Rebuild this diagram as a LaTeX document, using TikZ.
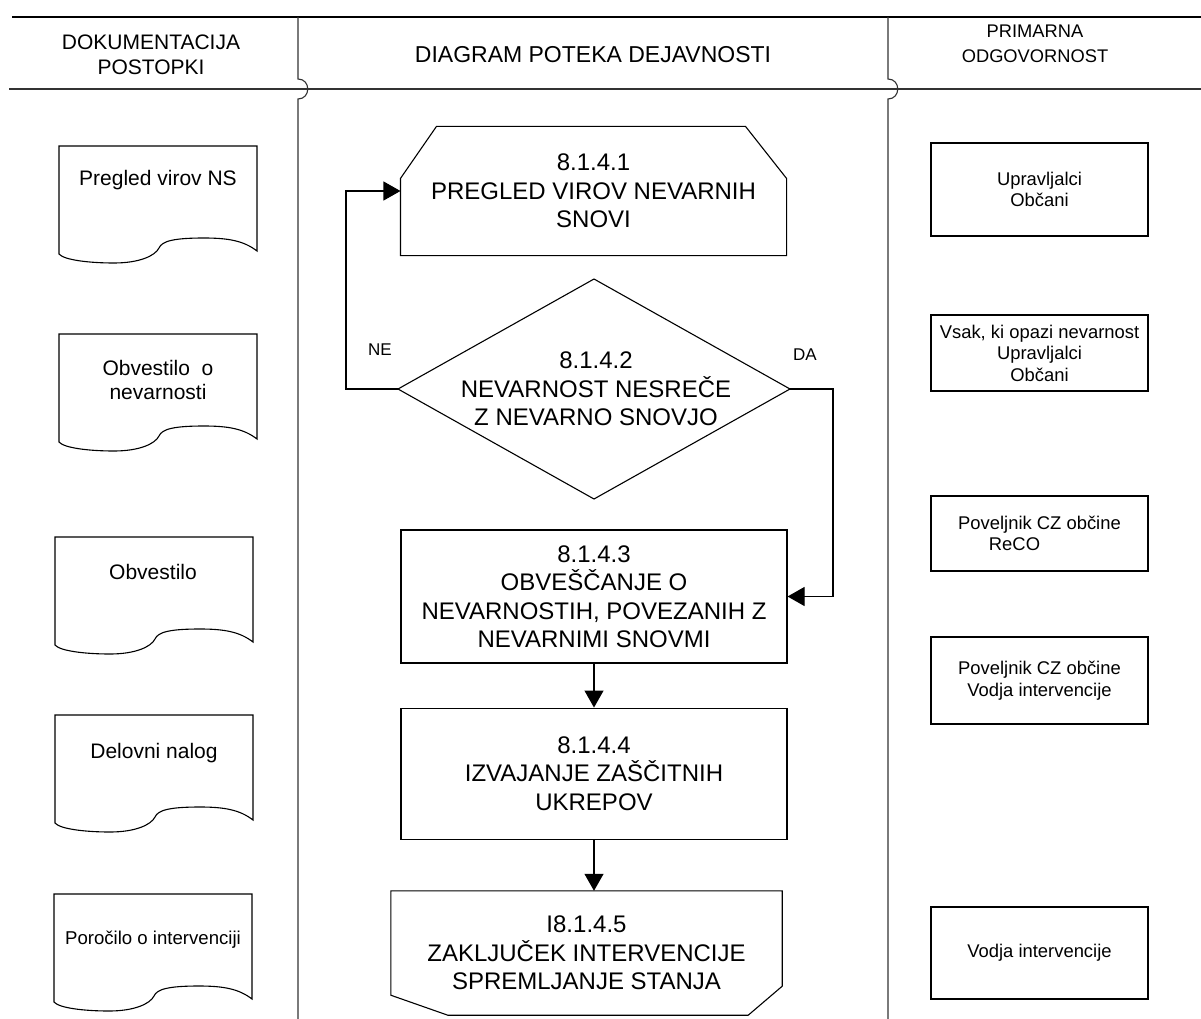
\documentclass[tikz,border=0pt]{standalone}
\usepackage{fontspec}
\setmainfont{Liberation Sans}
\usetikzlibrary{arrows.meta,calc,positioning}

\tikzset{
  laneline/.style={line width=1.1pt, draw=black!80},
  shapeline/.style={line width=1.1pt},
  flowbox/.style={draw, line width=1.1pt, align=center, inner sep=0pt, font=\fontsize{24}{28.5}\selectfont},
  flowtext/.style={align=center, inner sep=0pt, font=\fontsize{24}{28.5}\selectfont},
  flowarrow/.style={line width=1.1pt, -{Triangle[length=17pt,width=19pt]}},
  rolebox/.style={draw, line width=1.1pt, minimum width=217, align=center, font=\fontsize{18.4}{21.5}\selectfont},
  doctext/.style={align=center, font=\fontsize{21}{24}\selectfont},
  headtext/.style={align=center, font=\fontsize{21}{24.5}\selectfont},
  answer/.style={font=\fontsize{17}{20}\selectfont},
  pics/docsheet/.style={code={
    \draw[shapeline] (0,0) -- (198,0) -- (198,105)
      .. controls (185,95) and (170,92) .. (145,92)
      .. controls (115,92) and (103,95) .. (100,102)
      .. controls (96,110) and (80,117) .. (55,117)
      .. controls (30,117) and (5,114) .. (0,108) -- cycle;}}
}

\begin{document}
\begin{tikzpicture}[x=1pt,y=-1pt]
\useasboundingbox (0,0) rectangle (1201,1019);

% swimlanes
\draw[shapeline] (12,17) -- (1201,17);
\draw[laneline] (9,89) -- (1201,89);
\foreach \lx in {298,888}
  \draw[laneline] (\lx,17) -- (\lx,79) .. controls (\lx+13,79) and (\lx+13,99) .. (\lx,99) -- (\lx,1019);

\node[headtext] (hDok) at (151,55) {DOKUMENTACIJA\\POSTOPKI};
\node[headtext, font=\fontsize{23}{27}\selectfont] (hDiag) at (593,55) {DIAGRAM POTEKA DEJAVNOSTI};
\node[headtext, font=\fontsize{18.3}{25}\selectfont] (hOdg) at (1035,44) {PRIMARNA\\ODGOVORNOST};

% documents
\pic at (59,146) {docsheet};
\node[doctext] (dPregled) at (158,180) {Pregled virov NS};
\pic at (59,334) {docsheet};
\node[doctext] (dObvNev) at (158,380) {Obvestilo\ \ o\\nevarnosti};
\pic at (55,537) {docsheet};
\node[doctext] (dObv) at (153,572) {Obvestilo};
\pic at (55,715) {docsheet};
\node[doctext] (dNalog) at (154,753) {Delovni nalog};
\pic at (54,894) {docsheet};
\node[doctext, font=\fontsize{18.6}{22}\selectfont] (dPorocilo) at (153,940) {Poročilo o intervenciji};

% flow
\node[flowbox, draw=none, minimum width=385, minimum height=128] (pregled) at (593.5,191) {8.1.4.1\\PREGLED VIROV NEVARNIH\\SNOVI};
\draw[shapeline] (pregled.south west) -- ($(pregled.north west)+(0,52)$) -- ($(pregled.north west)+(36,0)$)
  -- ($(pregled.north east)+(-41,0)$) -- ($(pregled.north east)+(0,52)$) -- (pregled.south east) -- cycle;

\coordinate (nevT) at (594,279);
\coordinate (nevR) at (790,389);
\coordinate (nevB) at (594,499);
\coordinate (nevL) at (398,389);
\draw[shapeline] (nevT) -- (nevR) -- (nevB) -- (nevL) -- cycle;
\node[flowtext] (nevarnost) at (596,389) {8.1.4.2\\NEVARNOST NESREČE\\ Z NEVARNO SNOVJO};

\node[flowbox, minimum width=386, minimum height=133] (obvescanje) at (594,596.5) {8.1.4.3\\OBVEŠČANJE O\\NEVARNOSTIH, POVEZANIH Z\\NEVARNIMI SNOVMI};
\node[flowbox, minimum width=386, minimum height=131, below=44pt of obvescanje] (izvajanje) {8.1.4.4\\IZVAJANJE ZAŠČITNIH\\UKREPOV};

\node[flowtext, minimum width=391, minimum height=124] (zakljucek) at (586.5,953) {I8.1.4.5\\ZAKLJUČEK INTERVENCIJE\\ SPREMLJANJE STANJA};
\draw[shapeline] (zakljucek.north west) -- (zakljucek.north east) -- ($(zakljucek.south east)+(0,-29)$)
  -- ($(zakljucek.south east)+(-34,0)$) -- ($(zakljucek.south west)+(57,0)$) -- ($(zakljucek.south west)+(0,-20)$) -- cycle;

\draw[flowarrow] (nevL) -- ++(-52,0) |- (pregled.west);
\draw[flowarrow] (nevR) -- ++(43,0) |- (obvescanje.east);
\draw[flowarrow] (obvescanje) -- (izvajanje);
\draw[flowarrow] (izvajanje.south) -- (izvajanje.south |- zakljucek.north);
\node[answer] (ne) at (380,350) {NE};
\node[answer] (da) at (805,355) {DA};

% responsibility
\node[rolebox, minimum height=93] (rUpr) at (1039.5,189.5) {Upravljalci\\Občani};
\node[rolebox, minimum height=76] (rVsak) at (1039.5,353) {Vsak, ki opazi nevarnost\\Upravljalci\\Občani};
\node[rolebox, minimum height=75] (rReco) at (1039.5,533.5) {Poveljnik CZ občine\\ReCO\rule{50pt}{0pt}};
\node[rolebox, minimum height=87] (rVodja) at (1039.5,680.5) {Poveljnik CZ občine\\Vodja intervencije};
\node[rolebox, minimum height=92] (rInt) at (1039.5,953) {Vodja intervencije};
\end{tikzpicture}
\end{document}
